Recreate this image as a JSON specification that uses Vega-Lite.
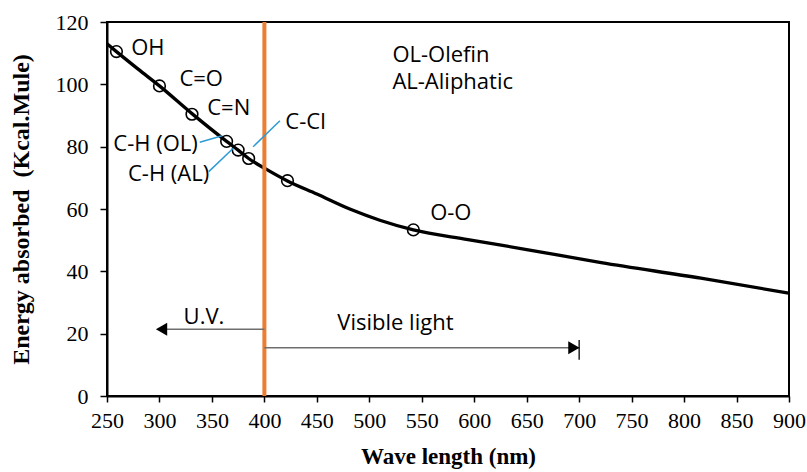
{
  "$schema": "https://vega.github.io/schema/vega-lite/v6.json",
  "width": 682,
  "height": 374,
  "autosize": {"type": "none"},
  "padding": {"left": 107, "top": 22, "right": 18, "bottom": 76},
  "background": "white",
  "config": {
    "view": {"stroke": "black", "strokeWidth": 2},
    "axis": {
      "grid": false,
      "domainColor": "black",
      "domainWidth": 2,
      "tickColor": "black",
      "tickWidth": 1.5,
      "labelFont": "Liberation Serif",
      "labelFontSize": 22,
      "labelColor": "black",
      "titleFont": "Liberation Serif",
      "titleFontSize": 23,
      "titleFontWeight": "bold",
      "titleColor": "black"
    }
  },
  "datasets": {
    "curve": [
      {"x": 250, "y": 113}, {"x": 259, "y": 110.5}, {"x": 280, "y": 104.8}, {"x": 300, "y": 99.5},
      {"x": 331, "y": 90.6}, {"x": 364, "y": 81.7}, {"x": 375, "y": 78.9}, {"x": 385, "y": 76.2},
      {"x": 400, "y": 73.1}, {"x": 422, "y": 69}, {"x": 450, "y": 64.8}, {"x": 482, "y": 59.9},
      {"x": 510, "y": 56.4}, {"x": 542, "y": 53.3}, {"x": 594, "y": 50.2}, {"x": 650, "y": 47},
      {"x": 721, "y": 42.8}, {"x": 816, "y": 37.8}, {"x": 900, "y": 33}
    ],
    "points": [
      {"x": 259, "y": 110.5}, {"x": 300, "y": 99.5}, {"x": 331, "y": 90.4}, {"x": 364, "y": 81.7},
      {"x": 375, "y": 78.9}, {"x": 385, "y": 76.2}, {"x": 422, "y": 69.1}, {"x": 542, "y": 53.3}
    ],
    "labels": [
      {"x": 273, "y": 111.6, "t": "OH"},
      {"x": 319, "y": 101.7, "t": "C=O"},
      {"x": 345.5, "y": 92.3, "t": "C=N"},
      {"x": 256, "y": 80.8, "t": "C-H (OL)"},
      {"x": 270, "y": 71.2, "t": "C-H (AL)"},
      {"x": 420, "y": 88.0, "t": "C-Cl"},
      {"x": 558, "y": 58.8, "t": "O-O"},
      {"x": 522, "y": 109.4, "t": "OL-Olefin"},
      {"x": 522, "y": 100.6, "t": "AL-Aliphatic"},
      {"x": 323, "y": 25.4, "t": "U.V."},
      {"x": 469.5, "y": 23.3, "t": "Visible light"}
    ],
    "leaders": [
      {"x": 338.4, "y": 81.4, "x2": 359.8, "y2": 83.5},
      {"x": 347, "y": 72, "x2": 370.3, "y2": 79.5},
      {"x": 389.3, "y": 80, "x2": 414.8, "y2": 88.3}
    ],
    "arrows": [
      {"x": 400, "x2": 300, "y": 21.4},
      {"x": 400, "x2": 700, "y": 15.5}
    ],
    "bar": [{"x": 700, "y": 11.6, "y2": 18}],
    "divider": [{"x": 400, "y": 0, "y2": 120}],
    "heads": [
      {"x": 302, "y": 21.4, "dir": "left"},
      {"x": 695, "y": 15.5, "dir": "right"}
    ]
  },
  "layer": [
    {
      "data": {"name": "curve"},
      "mark": {"type": "line", "color": "black", "strokeWidth": 3.3, "interpolate": "monotone"},
      "encoding": {
        "x": {"field": "x", "type": "quantitative",
              "scale": {"domain": [250, 900], "nice": false, "zero": false},
              "axis": {"title": "Wave length (nm)", "values": [250,300,350,400,450,500,550,600,650,700,750,800,850,900],
                       "tickSize": 6, "labelPadding": 8, "titlePadding": 14, "labelFlush": false}},
        "y": {"field": "y", "type": "quantitative",
              "scale": {"domain": [0, 120], "nice": false},
              "axis": {"title": "Energy absorbed\u00a0 (Kcal.Mule)", "titleFontSize": 24, "values": [0,20,40,60,80,100,120],
                       "tickSize": 7, "labelPadding": 12, "titlePadding": 22, "labelFlush": false}}
      }
    },
    {
      "data": {"name": "points"},
      "mark": {"type": "point", "shape": "circle", "filled": false, "stroke": "black", "strokeWidth": 1.6, "size": 135, "opacity": 1},
      "encoding": {
        "x": {"field": "x", "type": "quantitative"},
        "y": {"field": "y", "type": "quantitative"}
      }
    },
    {
      "data": {"name": "divider"},
      "mark": {"type": "rule", "color": "#ED7D31", "strokeWidth": 4},
      "encoding": {
        "x": {"field": "x", "type": "quantitative"},
        "y": {"field": "y", "type": "quantitative"},
        "y2": {"field": "y2"}
      }
    },
    {
      "data": {"name": "leaders"},
      "mark": {"type": "rule", "color": "#2E9BD6", "strokeWidth": 1.5},
      "encoding": {
        "x": {"field": "x", "type": "quantitative"},
        "y": {"field": "y", "type": "quantitative"},
        "x2": {"field": "x2"},
        "y2": {"field": "y2"}
      }
    },
    {
      "data": {"name": "arrows"},
      "mark": {"type": "rule", "color": "#6E6E6E", "strokeWidth": 1.6},
      "encoding": {
        "x": {"field": "x", "type": "quantitative"},
        "x2": {"field": "x2"},
        "y": {"field": "y", "type": "quantitative"}
      }
    },
    {
      "data": {"name": "bar"},
      "mark": {"type": "rule", "color": "black", "strokeWidth": 1.3},
      "encoding": {
        "x": {"field": "x", "type": "quantitative"},
        "y": {"field": "y", "type": "quantitative"},
        "y2": {"field": "y2"}
      }
    },
    {
      "data": {"name": "heads"},
      "transform": [{"filter": "datum.dir === 'left'"}],
      "mark": {"type": "point", "shape": "triangle-left", "filled": true, "color": "black", "size": 170, "opacity": 1},
      "encoding": {
        "x": {"field": "x", "type": "quantitative"},
        "y": {"field": "y", "type": "quantitative"}
      }
    },
    {
      "data": {"name": "heads"},
      "transform": [{"filter": "datum.dir === 'right'"}],
      "mark": {"type": "point", "shape": "triangle-right", "filled": true, "color": "black", "size": 170, "opacity": 1},
      "encoding": {
        "x": {"field": "x", "type": "quantitative"},
        "y": {"field": "y", "type": "quantitative"}
      }
    },
    {
      "data": {"name": "labels"},
      "mark": {"type": "text", "font": "Open Sans", "fontSize": 22, "color": "black", "align": "left", "baseline": "middle"},
      "encoding": {
        "x": {"field": "x", "type": "quantitative"},
        "y": {"field": "y", "type": "quantitative"},
        "text": {"field": "t"}
      }
    }
  ]
}
